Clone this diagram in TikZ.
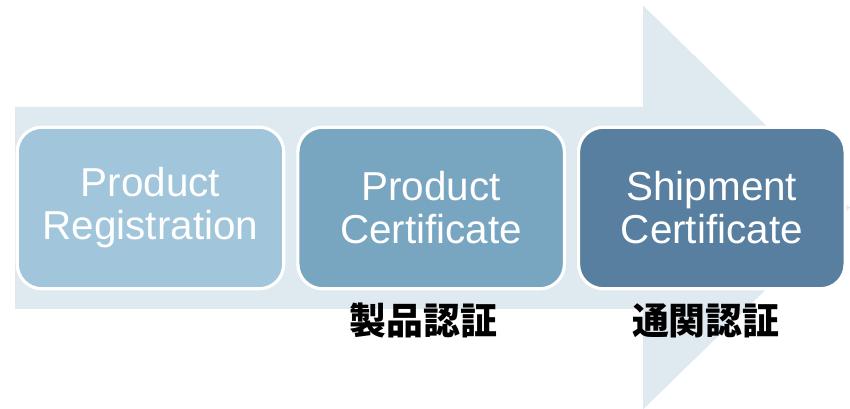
\documentclass[tikz,border=0pt]{standalone}
\usepackage{fontspec}
\setsansfont{Liberation Sans}
\newfontfamily\jpfont{Noto Sans CJK JP}
\usetikzlibrary{positioning}
\definecolor{cBg}{HTML}{DFE9F0}
\definecolor{cA}{HTML}{A1C5DA}
\definecolor{cB}{HTML}{78A5C0}
\definecolor{cC}{HTML}{587F9F}
\tikzset{
  stage/.style={rounded corners=14pt,draw=white,line width=1.8pt,
                minimum width=5.33cm,minimum height=3.23cm,align=center,
                text=white,font=\sffamily\fontsize{23}{24.5}\selectfont},
  jlabel/.style={font=\jpfont\bfseries\fontsize{21}{21}\selectfont,inner sep=1pt},
}

\begin{document}
\begin{tikzpicture}
  \useasboundingbox (0,0) rectangle (17,8.18);
  % background arrow
  \fill[cBg] (0.3,2.0) -- (0.3,6.04) -- (12.86,6.04) -- (12.86,8.07)
    -- (17,4.03) -- (12.86,-0.01) -- (12.86,2.0) -- cycle;
  % stages
  \node[stage,fill=cA] (reg) at (3.01,4.02) {Product\\Registration};
  \node[stage,fill=cB,right=0.22cm of reg] (prod) {Product\\Certificate};
  \node[stage,fill=cC,right=0.22cm of prod] (ship) {Shipment\\Certificate};
  \node[jlabel,below=0.22cm of prod,xshift=-0.16cm] (prodj) {製品認証};
  \node[jlabel,below=0.22cm of ship,xshift=-0.12cm] (shipj) {通関認証};
\end{tikzpicture}
\end{document}
